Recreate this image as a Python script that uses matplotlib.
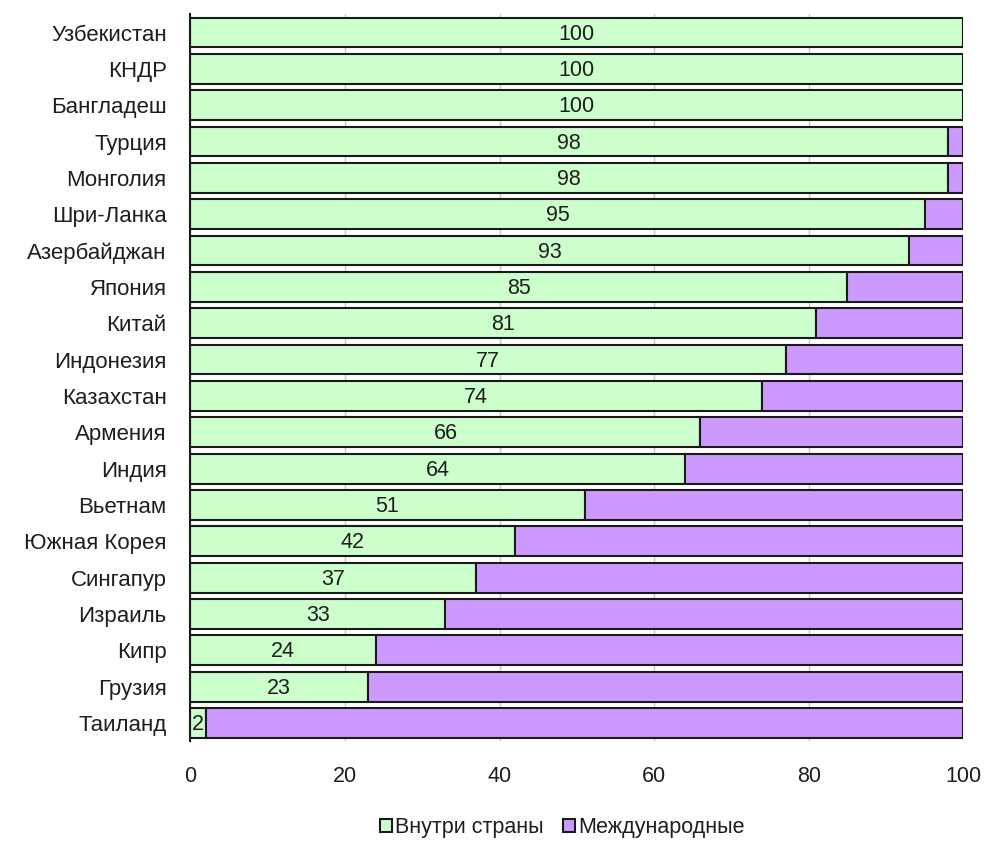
import matplotlib
matplotlib.use("Agg")
import matplotlib.pyplot as plt
import numpy as np

plt.rcParams['font.family'] = ['Liberation Sans', 'DejaVu Sans']

# countries, top to bottom
countries = ["Узбекистан", "КНДР", "Бангладеш", "Турция", "Монголия", "Шри-Ланка",
             "Азербайджан", "Япония", "Китай", "Индонезия", "Казахстан", "Армения",
             "Индия", "Вьетнам", "Южная Корея", "Сингапур", "Израиль", "Кипр",
             "Грузия", "Таиланд"]
domestic = [100, 100, 100, 98, 98, 95, 93, 85, 81, 77, 74, 66, 64, 51, 42, 37, 33, 24, 23, 2]
international = [100 - d for d in domestic]

green = "#CCFFCC"
purple = "#CC99FF"
txt = "#1e1e1e"

fig = plt.figure(figsize=(9.86, 8.47), dpi=100)
ax = fig.add_axes([0.193, 0.125, 0.784, 0.858])

y = np.arange(len(countries))
h = 0.82
ax.barh(y, domestic, height=h, color=green, edgecolor="#1a1a1a", linewidth=1.5,
        label="Внутри страны", zorder=2)
ax.barh(y, international, left=domestic, height=h, color=purple, edgecolor="#1a1a1a",
        linewidth=1.5, label="Международные", zorder=2)

for yi, d in zip(y, domestic):
    ax.text(d / 2, yi + 0.04, str(d), ha="center", va="center", fontsize=15.5, color=txt, zorder=3)

ax.set_ylim(len(countries) - 0.5, -0.5)
ax.set_xlim(0, 100)
ax.set_yticks(y)
ax.set_yticklabels(countries, fontsize=16, color=txt)
ax.set_xticks([0, 20, 40, 60, 80, 100])
ax.tick_params(axis="x", labelsize=15.5, length=0, pad=18, colors=txt)
ax.tick_params(axis="y", length=0, pad=17)
ax.grid(axis="x", color="#c8c8c8", linewidth=1, zorder=0)
for s in ["top", "right", "bottom"]:
    ax.spines[s].set_visible(False)
ax.spines["left"].set_linewidth(1.5)
ax.spines["left"].set_color("#1a1a1a")

# legend sits centred under the plot area
fig.legend(loc="lower center", bbox_to_anchor=(0.57, -0.012), ncol=2, frameon=False,
           fontsize=15.5, handlelength=0.55, handleheight=0.55, handletextpad=0.15,
           columnspacing=0.9)
for t in fig.legends[0].get_texts():
    t.set_color(txt)

fig.savefig("out.png", dpi=100)
